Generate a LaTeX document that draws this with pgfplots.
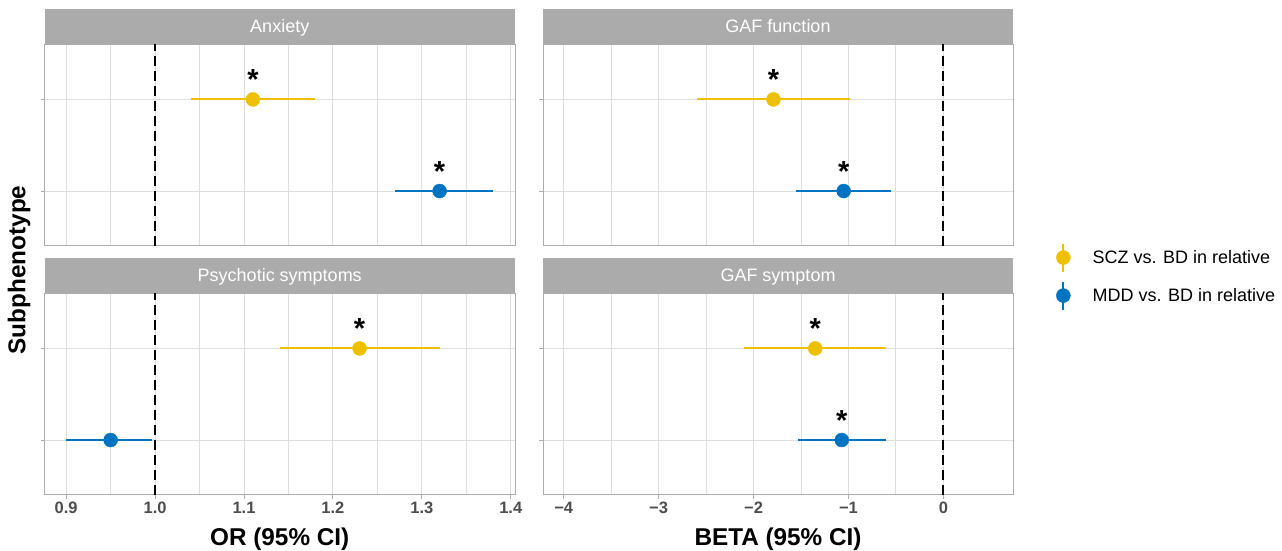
\documentclass[border=0pt]{standalone}
\usepackage{fontspec}
\setmainfont{Liberation Sans}
\usepackage{pgfplots}
\usepackage{pgfplotstable}
\pgfplotsset{compat=1.18}
\definecolor{scz}{HTML}{EFC000}
\definecolor{mdd}{HTML}{0073C2}
\definecolor{stripg}{HTML}{ABABAB}
\definecolor{bordg}{HTML}{ADADAD}
\definecolor{gridg}{HTML}{DEDEDE}
\definecolor{tickg}{HTML}{4D4D4D}

% y = 2: SCZ vs. BD ; y = 1: MDD vs. BD
\pgfplotstableread{
x y lo hi
1.11 2 1.04 1.18
1.32 1 1.27 1.38
}\anx
\pgfplotstableread{
x y lo hi
1.23 2 1.14 1.32
0.95 1 0.90 0.996
}\psy
\pgfplotstableread{
x y lo hi
-1.79 2 -2.60 -0.98
-1.05 1 -1.55 -0.55
}\gaff
\pgfplotstableread{
x y lo hi
-1.35 2 -2.10 -0.60
-1.07 1 -1.53 -0.60
}\gafs

\pgfplotsset{
  /pgfplots/table/tabopts/.style={x=x, y=y, x error plus expr=\thisrow{hi}-\thisrow{x}, x error minus expr=\thisrow{x}-\thisrow{lo}},
  panel/.style={
    scale only axis, width=470.5pt, height=201.5pt,
    ymin=0.4, ymax=2.6, ytick={1,2}, yticklabels={},
    axis line style={bordg, line width=1pt},
    grid=both,
    major grid style={gridg, line width=0.9pt},
    minor grid style={gridg, line width=0.9pt},
    minor x tick num=1,
    tick style={bordg, line width=0.9pt},
    tick align=outside, major tick length=3.7pt, minor tick length=0pt,
    tick pos=left,
    ticklabel style={font=\fontsize{16.5}{18}\selectfont\bfseries, text=tickg},
    x label style={at={(axis description cs:0.5,0)}, anchor=base, yshift=-50pt, font=\fontsize{24.3}{26}\selectfont\bfseries},
    clip=false,
  },
  ORaxis/.style={xmin=0.8756, xmax=1.4048, xtick={0.9,1.0,1.1,1.2,1.3,1.4}, xticklabels={0.9,1.0,1.1,1.2,1.3,1.4}},
  BEaxis/.style={xmin=-4.218, xmax=0.734, xtick={-4,-3,-2,-1,0}, xticklabels={−4,−3,−2,−1,0}},
  star/.style={nodes near coords={*}, every node near coord/.append style={anchor=base, inner sep=0pt, yshift=9.5pt, font=\fontsize{29}{30}\selectfont\bfseries, text=black}},
  ci/.style={color=#1, only marks, mark=*, mark size=7pt, mark options={draw=none, fill=#1},
     error bars/.cd, x dir=both, x explicit, error mark=none, error bar style={line width=2pt, color=#1, solid}},
  vline/.style={black, line width=1.4pt, dash pattern=on 10pt off 5pt, forget plot},
  legendci/.style={legend image code/.code={\draw[line width=2pt,#1] (0pt,-14pt) -- (0pt,14pt); \fill[#1] (0pt,0pt) circle (7pt);}},
}

\begin{document}
\begin{tikzpicture}
\useasboundingbox (0,0) rectangle (1282pt,551pt);

% Anxiety (top left)
\begin{axis}[panel, ORaxis, at={(44.5pt,305pt)}, anchor=south west, xmajorticks=false]
\addplot[vline] coordinates {(1,0.4) (1,2.6)};
\addplot[star, skip coords between index={1}{2}, ci=scz] table[tabopts] {\anx};
\addplot[star, skip coords between index={0}{1}, ci=mdd] table[tabopts] {\anx};
\end{axis}

% Psychotic symptoms (bottom left)
\begin{axis}[panel, ORaxis, at={(44.5pt,56pt)}, anchor=south west, xlabel={OR (95\% CI)}]
\addplot[vline] coordinates {(1,0.4) (1,2.6)};
\addplot[star, skip coords between index={1}{2}, ci=scz] table[tabopts] {\psy};
\addplot[skip coords between index={0}{1}, ci=mdd] table[tabopts] {\psy};
\end{axis}

% GAF function (top right)
\begin{axis}[panel, BEaxis, width=470pt, at={(543pt,305pt)}, anchor=south west, xmajorticks=false]
\addplot[vline, line width=1.7pt] coordinates {(0,0.4) (0,2.6)};
\addplot[star, skip coords between index={1}{2}, ci=scz] table[tabopts] {\gaff};
\addplot[star, skip coords between index={0}{1}, ci=mdd] table[tabopts] {\gaff};
\end{axis}

% GAF symptom (bottom right)
\begin{axis}[panel, BEaxis, width=470pt, at={(543pt,56pt)}, anchor=south west, xlabel={BETA (95\% CI)},
  legend style={draw=none, fill=none, at={(axis description cs:1.085,1.084)}, anchor=west,
    font=\fontsize{18}{20}\selectfont, row sep=8pt, column sep=22pt, nodes={inner sep=0pt}},
  legend cell align=left]
\addlegendimage{legendci=scz}
\addlegendentry{SCZ vs. BD in relative}
\addlegendimage{legendci=mdd}
\addlegendentry{MDD vs. BD in relative}
\addplot[vline, line width=1.7pt] coordinates {(0,0.4) (0,2.6)};
\addplot[star, skip coords between index={1}{2}, forget plot, ci=scz] table[tabopts] {\gafs};
\addplot[star, skip coords between index={0}{1}, forget plot, ci=mdd] table[tabopts] {\gafs};
\end{axis}

% strips
\fill[stripg] (44.5pt,506.5pt) rectangle (515pt,542pt);
\fill[stripg] (543pt,506.5pt) rectangle (1013pt,542pt);
\fill[stripg] (44.5pt,258pt) rectangle (515pt,293pt);
\fill[stripg] (543pt,258pt) rectangle (1013pt,293pt);
\begin{scope}[every node/.style={font=\fontsize{18}{20}\selectfont, text=white, anchor=base, inner sep=0pt}]
\node at (279.75pt,518.3pt) {Anxiety};
\node at (778pt,518.3pt) {GAF function};
\node at (279.75pt,269.3pt) {Psychotic symptoms};
\node at (778pt,269.3pt) {GAF symptom};
\end{scope}
\node[rotate=90, font=\fontsize{24.3}{26}\selectfont\bfseries] at (19pt,281pt) {Subphenotype};
\end{tikzpicture}
\end{document}
